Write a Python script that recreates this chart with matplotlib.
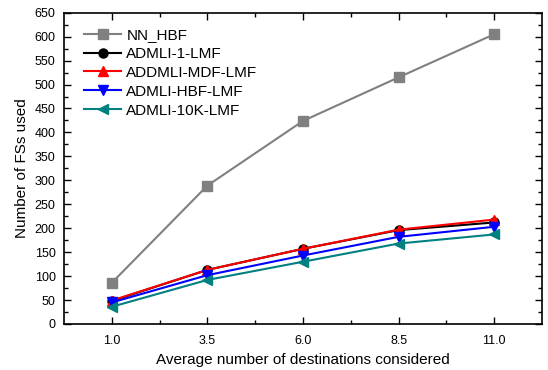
import matplotlib
matplotlib.use("Agg")
import matplotlib.pyplot as plt
from matplotlib.ticker import FixedLocator, MultipleLocator

plt.rcParams['font.family'] = ['Liberation Sans', 'DejaVu Sans']

x = [1.0, 3.5, 6.0, 8.5, 11.0]
xticklabels = ["1.0", "3.5", "6.0", "8.5", "11.0"]
nn_hbf = [86, 289, 424, 515, 605]
admli_1_lmf = [48, 113, 157, 196, 212]
addmli_mdf_lmf = [49, 113, 157, 197, 218]
admli_hbf_lmf = [45, 102, 143, 182, 203]
admli_10k_lmf = [36, 92, 130, 168, 187]

series = [
    ("NN_HBF", nn_hbf, "#808080", "s"),
    ("ADMLI-1-LMF", admli_1_lmf, "#000000", "o"),
    ("ADDMLI-MDF-LMF", addmli_mdf_lmf, "#ff0000", "^"),
    ("ADMLI-HBF-LMF", admli_hbf_lmf, "#0000ff", "v"),
    ("ADMLI-10K-LMF", admli_10k_lmf, "#008080", "<"),
]

fig = plt.figure(figsize=(5.48, 3.70), dpi=100)
ax = fig.add_axes([64/548, 46/370, (542-64)/548, (324-12.7)/370])

for label, vals, color, marker in series:
    ax.plot(x, vals, color=color, marker=marker, markersize=6.5, linewidth=1.5,
            label=label)

ax.set_xlim(-0.25, 12.25)
ax.set_ylim(0, 650)
ax.set_xticks(x)
ax.set_xticklabels(xticklabels)
ax.xaxis.set_minor_locator(FixedLocator([2.25, 4.75, 7.25, 9.75]))
ax.yaxis.set_major_locator(MultipleLocator(50))
ax.yaxis.set_minor_locator(MultipleLocator(25))
ax.tick_params(which='both', direction='in', top=True, right=True,
               labelsize=9, width=1)
ax.tick_params(which='major', length=5)
ax.tick_params(which='minor', length=3)
ax.tick_params(axis='x', which='major', pad=8)
ax.tick_params(axis='y', which='major', pad=6)
for s in ax.spines.values():
    s.set_linewidth(1.2)

ax.set_xlabel("Average number of destinations considered", fontsize=11, labelpad=4)
ax.set_ylabel("Number of FSs used", fontsize=11, labelpad=4)

ax.legend(loc='upper left', frameon=False, fontsize=11, handlelength=2.4,
          borderaxespad=0.3, labelspacing=0.32, bbox_to_anchor=(0.02, 0.985),
          handletextpad=0.35)

fig.savefig("out.png", dpi=100)
